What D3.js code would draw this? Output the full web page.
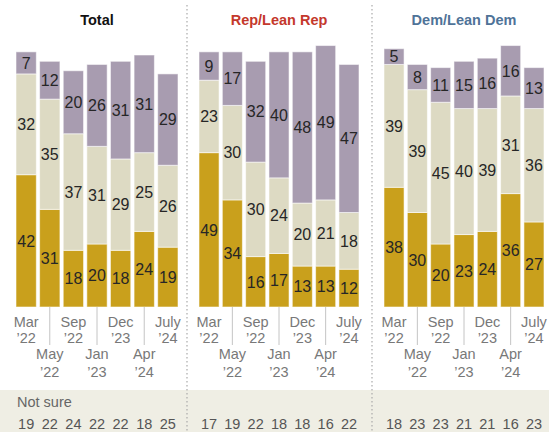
<!DOCTYPE html>
<html><head><meta charset="utf-8">
<script src="https://cdn.jsdelivr.net/npm/d3@7"></script>
<style>html,body{margin:0;padding:0;background:#fff;}svg{display:block;font-family:"Liberation Sans",Arial,sans-serif;}</style>
</head><body><svg id="c" width="549" height="432"></svg>
<script>
const months = ["Mar","May","Sep","Jan","Dec","Apr","July"];
const years = ["\u201922","\u201922","\u201922","\u201923","\u201923","\u201924","\u201924"];
const panelTitles = ["Total","Rep/Lean Rep","Dem/Lean Dem"];
const totalGold = [42,31,18,20,18,24,19];
const totalMid  = [32,35,37,31,29,25,26];
const totalTop  = [7,12,20,26,31,31,29];
const totalNotSure = [19,22,24,22,22,18,25];
const repGold = [49,34,16,17,13,13,12];
const repMid  = [23,30,30,24,20,21,18];
const repTop  = [9,17,32,40,48,49,47];
const repNotSure = [17,19,22,18,18,16,22];
const demGold = [38,30,20,23,24,36,27];
const demMid  = [39,39,45,40,39,31,36];
const demTop  = [5,8,11,15,16,16,13];
const demNotSure = [18,23,23,21,21,16,23];

const panels = [
  {title: panelTitles[0], color:"#111", range:[16,178], series:[totalGold,totalMid,totalTop], notSure: totalNotSure},
  {title: panelTitles[1], color:"#c4382c", range:[199,359], series:[repGold,repMid,repTop], notSure: repNotSure},
  {title: panelTitles[2], color:"#4f7398", range:[384,544], series:[demGold,demMid,demTop], notSure: demNotSure}
];
const segColors = ["#c9a01c","#dddac3","#a89cb0"];

const svg = d3.select("#c");
const y = d3.scaleLinear().domain([0,100]).range([307,-8]);

// Not sure band
svg.append("rect").attr("x",0).attr("y",390).attr("width",549).attr("height",42).attr("fill","#efeee4");
svg.append("text").attr("x",17).attr("y",407).attr("font-size",14.5).attr("fill","#666").text("Not sure");

// dividers
[187,372].forEach(xx=>{
  svg.append("line").attr("x1",xx).attr("x2",xx).attr("y1",5).attr("y2",432)
    .attr("stroke","#aaa").attr("stroke-width",1.2).attr("stroke-dasharray","1.5,2.5");
});

panels.forEach(p=>{
  const x = d3.scaleBand().domain(months.map((m,i)=>i)).range(p.range).paddingInner(0.14).paddingOuter(0);
  const g = svg.append("g");
  g.append("text").attr("x",(p.range[0]+p.range[1])/2).attr("y",25).attr("text-anchor","middle")
    .attr("font-size",14.5).attr("font-weight","bold").attr("fill",p.color).text(p.title);
  months.forEach((m,i)=>{
    let base = 0;
    p.series.forEach((s,k)=>{
      const v = s[i];
      const y0 = y(base), y1 = y(base+v);
      g.append("rect").attr("x",x(i)).attr("width",x.bandwidth()).attr("y",y1).attr("height",y0-y1)
        .attr("fill",segColors[k]).attr("stroke","rgba(255,255,255,0.55)").attr("stroke-width",1);
      g.append("text").attr("x",x(i)+x.bandwidth()/2).attr("y",(y0+y1)/2).attr("dy","0.36em")
        .attr("text-anchor","middle").attr("font-size",16).attr("fill","#262626").text(v);
      base += v;
    });
    const cx = x(i)+x.bandwidth()/2;
    const lower = i%2===1;
    if(lower){
      g.append("line").attr("x1",cx).attr("x2",cx).attr("y1",307).attr("y2",345).attr("stroke","#c4c4c4").attr("stroke-width",1);
    }
    g.append("text").attr("x",cx).attr("y",lower?359:327).attr("text-anchor","middle").attr("font-size",14.5).attr("fill","#787878").text(m);
    g.append("text").attr("x",cx).attr("y",lower?377:343).attr("text-anchor","middle").attr("font-size",14.5).attr("fill","#787878").text(years[i]);
    g.append("text").attr("x",cx).attr("y",429).attr("text-anchor","middle").attr("font-size",14.5).attr("fill","#555").text(p.notSure[i]);
  });
});
</script></body></html>
